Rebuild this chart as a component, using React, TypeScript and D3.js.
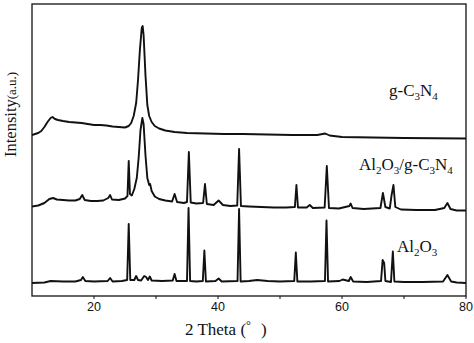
import React from "react";
import * as d3 from "d3";

// 2θ (degrees), intensity (a.u.) points
const gC3N4: [number, number][] = [
  [10, 161], [10.5, 162], [11, 163], [11.5, 165], [12, 169], [12.5, 174], [13, 178], [13.3, 179],
  [13.7, 177], [14.2, 176], [15, 175], [16, 174], [17, 173.5], [18, 173], [19, 172], [20, 171],
  [21, 171], [22, 170.5], [23, 169.5], [24, 169], [25, 168.5], [25.6, 170], [26, 173], [26.4, 180],
  [26.8, 193], [27.1, 216], [27.4, 246], [27.7, 268], [27.85, 270], [28, 261], [28.3, 221],
  [28.6, 191], [28.9, 180], [29.3, 174], [29.8, 170], [30.5, 167.5], [31.5, 165.5], [33, 164],
  [35, 163], [38, 162.5], [41, 162], [44, 162], [48, 161.5], [52, 161], [56, 161], [57.3, 162.5],
  [58, 160.5], [60, 159], [65, 158.5], [70, 158], [75, 157.7], [80, 157.5],
];

const composite: [number, number][] = [
  [10, 89.5], [11, 90.5], [12, 93], [12.8, 97], [13.4, 98], [14, 96.5], [15, 96], [16, 95.5],
  [17, 95.5], [17.7, 97], [18.1, 101], [18.5, 96], [19.5, 95], [20.5, 95], [21.5, 95.5],
  [22.3, 98], [22.6, 101], [22.9, 96.5], [24, 96], [25, 97.5], [25.4, 100], [25.6, 135],
  [25.8, 102], [26.1, 100.5], [26.5, 107], [26.9, 118], [27.2, 138], [27.5, 166], [27.8, 178],
  [28, 172], [28.3, 141], [28.6, 118], [28.9, 111], [29.05, 112], [29.3, 105], [29.8, 99.5],
  [30.5, 97], [31.5, 95.5], [32.6, 94.5], [33, 102], [33.4, 94], [34.5, 93], [35, 94],
  [35.3, 144], [35.6, 93.5], [36.5, 92.5], [37.6, 93], [37.9, 112], [38.2, 92], [39.3, 91],
  [40.1, 95.5], [40.8, 91], [42, 90], [43.1, 90.5], [43.4, 147], [43.7, 90], [45, 89.5],
  [47, 89], [49, 88.5], [51, 88.5], [52.4, 89], [52.65, 111], [52.9, 88.5], [54.3, 88.5],
  [54.8, 91], [55.3, 88], [57.2, 88.5], [57.55, 130], [57.9, 88], [59.5, 87.5], [61.2, 90],
  [61.4, 92.5], [61.7, 88], [63.5, 87], [66.2, 88], [66.6, 103], [67, 89], [67.7, 87.5],
  [68, 101], [68.3, 111], [68.6, 89], [69.5, 86.5], [72, 86], [75, 86], [76.5, 88], [77, 93],
  [77.5, 87], [78.5, 85.5], [80, 85.5],
];

const alumina: [number, number][] = [
  [10, 13], [12, 13.5], [13, 15], [15, 14.5], [17, 14.5], [17.9, 16], [18.2, 19], [18.6, 15],
  [20, 14.5], [22.2, 15], [22.6, 18], [23, 14.5], [24.5, 15], [25.35, 16], [25.6, 72],
  [25.85, 16], [26.5, 16], [26.8, 20], [27.1, 16], [27.6, 15.5], [28.1, 20], [28.4, 19],
  [28.7, 16], [29, 19.5], [29.3, 15.5], [31, 15], [32.7, 15.5], [33, 22], [33.3, 15],
  [35, 15], [35.25, 88], [35.5, 15], [36.5, 14.5], [37.55, 15], [37.8, 45.5], [38.05, 14.5],
  [39.6, 15], [40.1, 17.5], [40.6, 14.5], [43.15, 15], [43.4, 87], [43.65, 14.5], [45, 15],
  [46.3, 16], [48, 15], [50, 14.5], [52.3, 15], [52.55, 43.5], [52.8, 14.5], [55, 14.5],
  [57.25, 15], [57.5, 75.5], [57.75, 14.5], [59.6, 15], [60.1, 16.5], [61.1, 15], [61.4, 19],
  [61.8, 14.5], [64, 14], [66.3, 15], [66.55, 36], [66.8, 33], [67, 15], [67.9, 14],
  [68.2, 44.5], [68.45, 14.5], [70, 14], [73, 14], [76.3, 14.5], [77, 21], [77.6, 14.5],
  [78.5, 13.5], [80, 13],
];

const xTicks = [20, 30, 40, 50, 60, 70, 80];
const xTickLabels = [20, 40, 60, 80];

const W = 474;
const H = 343;
const left = 32;
const right = 466;
const top = 4;
const bottom = 296;

export default function App() {
  const x = d3.scaleLinear().domain([10, 80]).range([left, right]);
  const y = d3.scaleLinear().domain([0, 292]).range([bottom, top]);
  const line = d3
    .line<[number, number]>()
    .x((d) => x(d[0]))
    .y((d) => y(d[1]))
    .curve(d3.curveLinear);

  const serif = "'Liberation Serif', 'DejaVu Serif', serif";
  const sans = "'Liberation Sans', Arial, sans-serif";

  const sub = (t: string) => (
    <tspan fontSize={11} dy={4}>
      {t}
    </tspan>
  );
  const up = (t: string) => <tspan dy={-4}>{t}</tspan>;

  return (
    <svg
      width={W}
      height={H}
      style={{ position: "absolute", left: 0, top: 0, background: "#fff" }}
    >
      <defs>
        <clipPath id="plot">
          <rect x={left} y={top} width={right - left} height={bottom - top} />
        </clipPath>
      </defs>
      <g clipPath="url(#plot)" fill="none" stroke="#111" strokeWidth={1.9} strokeLinejoin="round">
        <path d={line(gC3N4) || ""} />
        <path d={line(composite) || ""} />
        <path d={line(alumina) || ""} />
      </g>
      <rect
        x={left}
        y={top}
        width={right - left}
        height={bottom - top}
        fill="none"
        stroke="#111"
        strokeWidth={1.3}
      />
      {xTicks.map((t) => (
        <line key={t} x1={x(t)} x2={x(t)} y1={bottom} y2={bottom + 3} stroke="#111" strokeWidth={1} />
      ))}
      {xTickLabels.map((t) => (
        <text key={t} x={x(t)} y={310.5} textAnchor="middle" fontFamily={sans} fontSize={12.5} fill="#111">
          {t}
        </text>
      ))}
      <text x={185} y={335} fontFamily={serif} fontSize={17} fill="#111">
        2 Theta (
        <tspan fontSize={12} dy={-6}>°</tspan>
        <tspan dy={6} dx={10}>)</tspan>
      </text>
      <text transform="translate(16,157) rotate(-90)" fontFamily={serif} fill="#111">
        <tspan fontSize={16.5}>Intensity</tspan>
        <tspan fontSize={13}>(a.u.)</tspan>
      </text>
      <text x={389} y={96} fontFamily={serif} fontSize={17} fill="#111">
        g-C{sub("3")}
        {up("N")}
        {sub("4")}
      </text>
      <text x={359} y={170} fontFamily={serif} fontSize={17} fill="#111">
        Al{sub("2")}
        {up("O")}
        {sub("3")}
        {up("/g-C")}
        {sub("3")}
        {up("N")}
        {sub("4")}
      </text>
      <text x={397} y={252} fontFamily={serif} fontSize={17} fill="#111">
        Al{sub("2")}
        {up("O")}
        {sub("3")}
      </text>
    </svg>
  );
}
